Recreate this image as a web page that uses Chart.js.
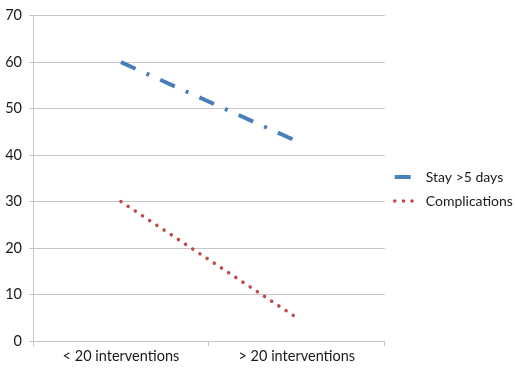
<!DOCTYPE html>
<html>
<head>
<meta charset="utf-8">
<script src="https://cdn.jsdelivr.net/npm/chart.js@4.4.0/dist/chart.umd.min.js"></script>
<style>
html, body { margin: 0; padding: 0; background: #fff; }
#wrap { width: 515px; height: 371px; position: relative; }
</style>
</head>
<body>
<div id="wrap"><canvas id="lineChart" width="515" height="371"></canvas></div>
<script>
// values
var categories = ["< 20 interventions", "> 20 interventions"];
var stayLabel = "Stay >5 days";
var stayValues = [60, 43];
var complLabel = "Complications";
var complValues = [30, 5];
var yMin = 0, yMax = 70, yStep = 10;

var gridColor = "#c6c6c6";
var textColor = "#1a1a1a";
var axisFont = { family: "Lato", size: 14.5 };
var legendFont = { family: "Lato", size: 14 };

Chart.defaults.font.family = "Lato";
Chart.defaults.color = textColor;

var lineChart = new Chart("lineChart", {
    type: "line",
    data: {
        labels: categories,
        datasets: [
            {
                label: stayLabel,
                data: stayValues,
                borderColor: "#4a7ebb",
                backgroundColor: "#4a7ebb",
                borderWidth: 4,
                borderDash: [16, 12, 3, 12],
                pointRadius: 0,
                tension: 0
            },
            {
                label: complLabel,
                data: complValues,
                borderColor: "#be4b48",
                backgroundColor: "#be4b48",
                borderWidth: 3.5,
                borderDash: [0.1, 8.5],
                borderCapStyle: "round",
                pointRadius: 0,
                tension: 0
            }
        ]
    },
    options: {
        responsive: false,
        animation: false,
        devicePixelRatio: 1,
        layout: { padding: { top: 11, right: 2, left: 0, bottom: 4 } },
        plugins: {
            tooltip: { enabled: false },
            legend: {
                position: "right",
                align: "center",
                labels: {
                    usePointStyle: true,
                    pointStyle: "line",
                    pointStyleWidth: 24,
                    padding: 10,
                    font: legendFont,
                    color: textColor,
                    // legend samples keep the dash pattern of their series
                    generateLabels: function (chart) {
                        var items = Chart.defaults.plugins.legend.labels.generateLabels(chart);
                        items.forEach(function (item) {
                            var ds = chart.data.datasets[item.datasetIndex];
                            item.lineDash = ds.borderDash;
                            item.lineCap = ds.borderCapStyle || "butt";
                            item.lineWidth = ds.borderWidth;
                            item.strokeStyle = ds.borderColor;
                        });
                        return items;
                    }
                }
            }
        },
        scales: {
            x: {
                offset: true,
                grid: {
                    offset: true,
                    drawOnChartArea: false,
                    drawTicks: true,
                    tickLength: 5,
                    color: gridColor
                },
                border: { color: gridColor },
                ticks: { font: axisFont, padding: 2, maxRotation: 0, color: textColor },
                afterFit: function (scale) { scale.height = 26; }
            },
            y: {
                min: yMin,
                max: yMax,
                grid: { color: gridColor, tickLength: 4 },
                border: { color: gridColor },
                ticks: { stepSize: yStep, font: axisFont, padding: 7, color: textColor },
                afterFit: function (scale) { scale.width = 33; }
            }
        }
    }
});
</script>
</body>
</html>
